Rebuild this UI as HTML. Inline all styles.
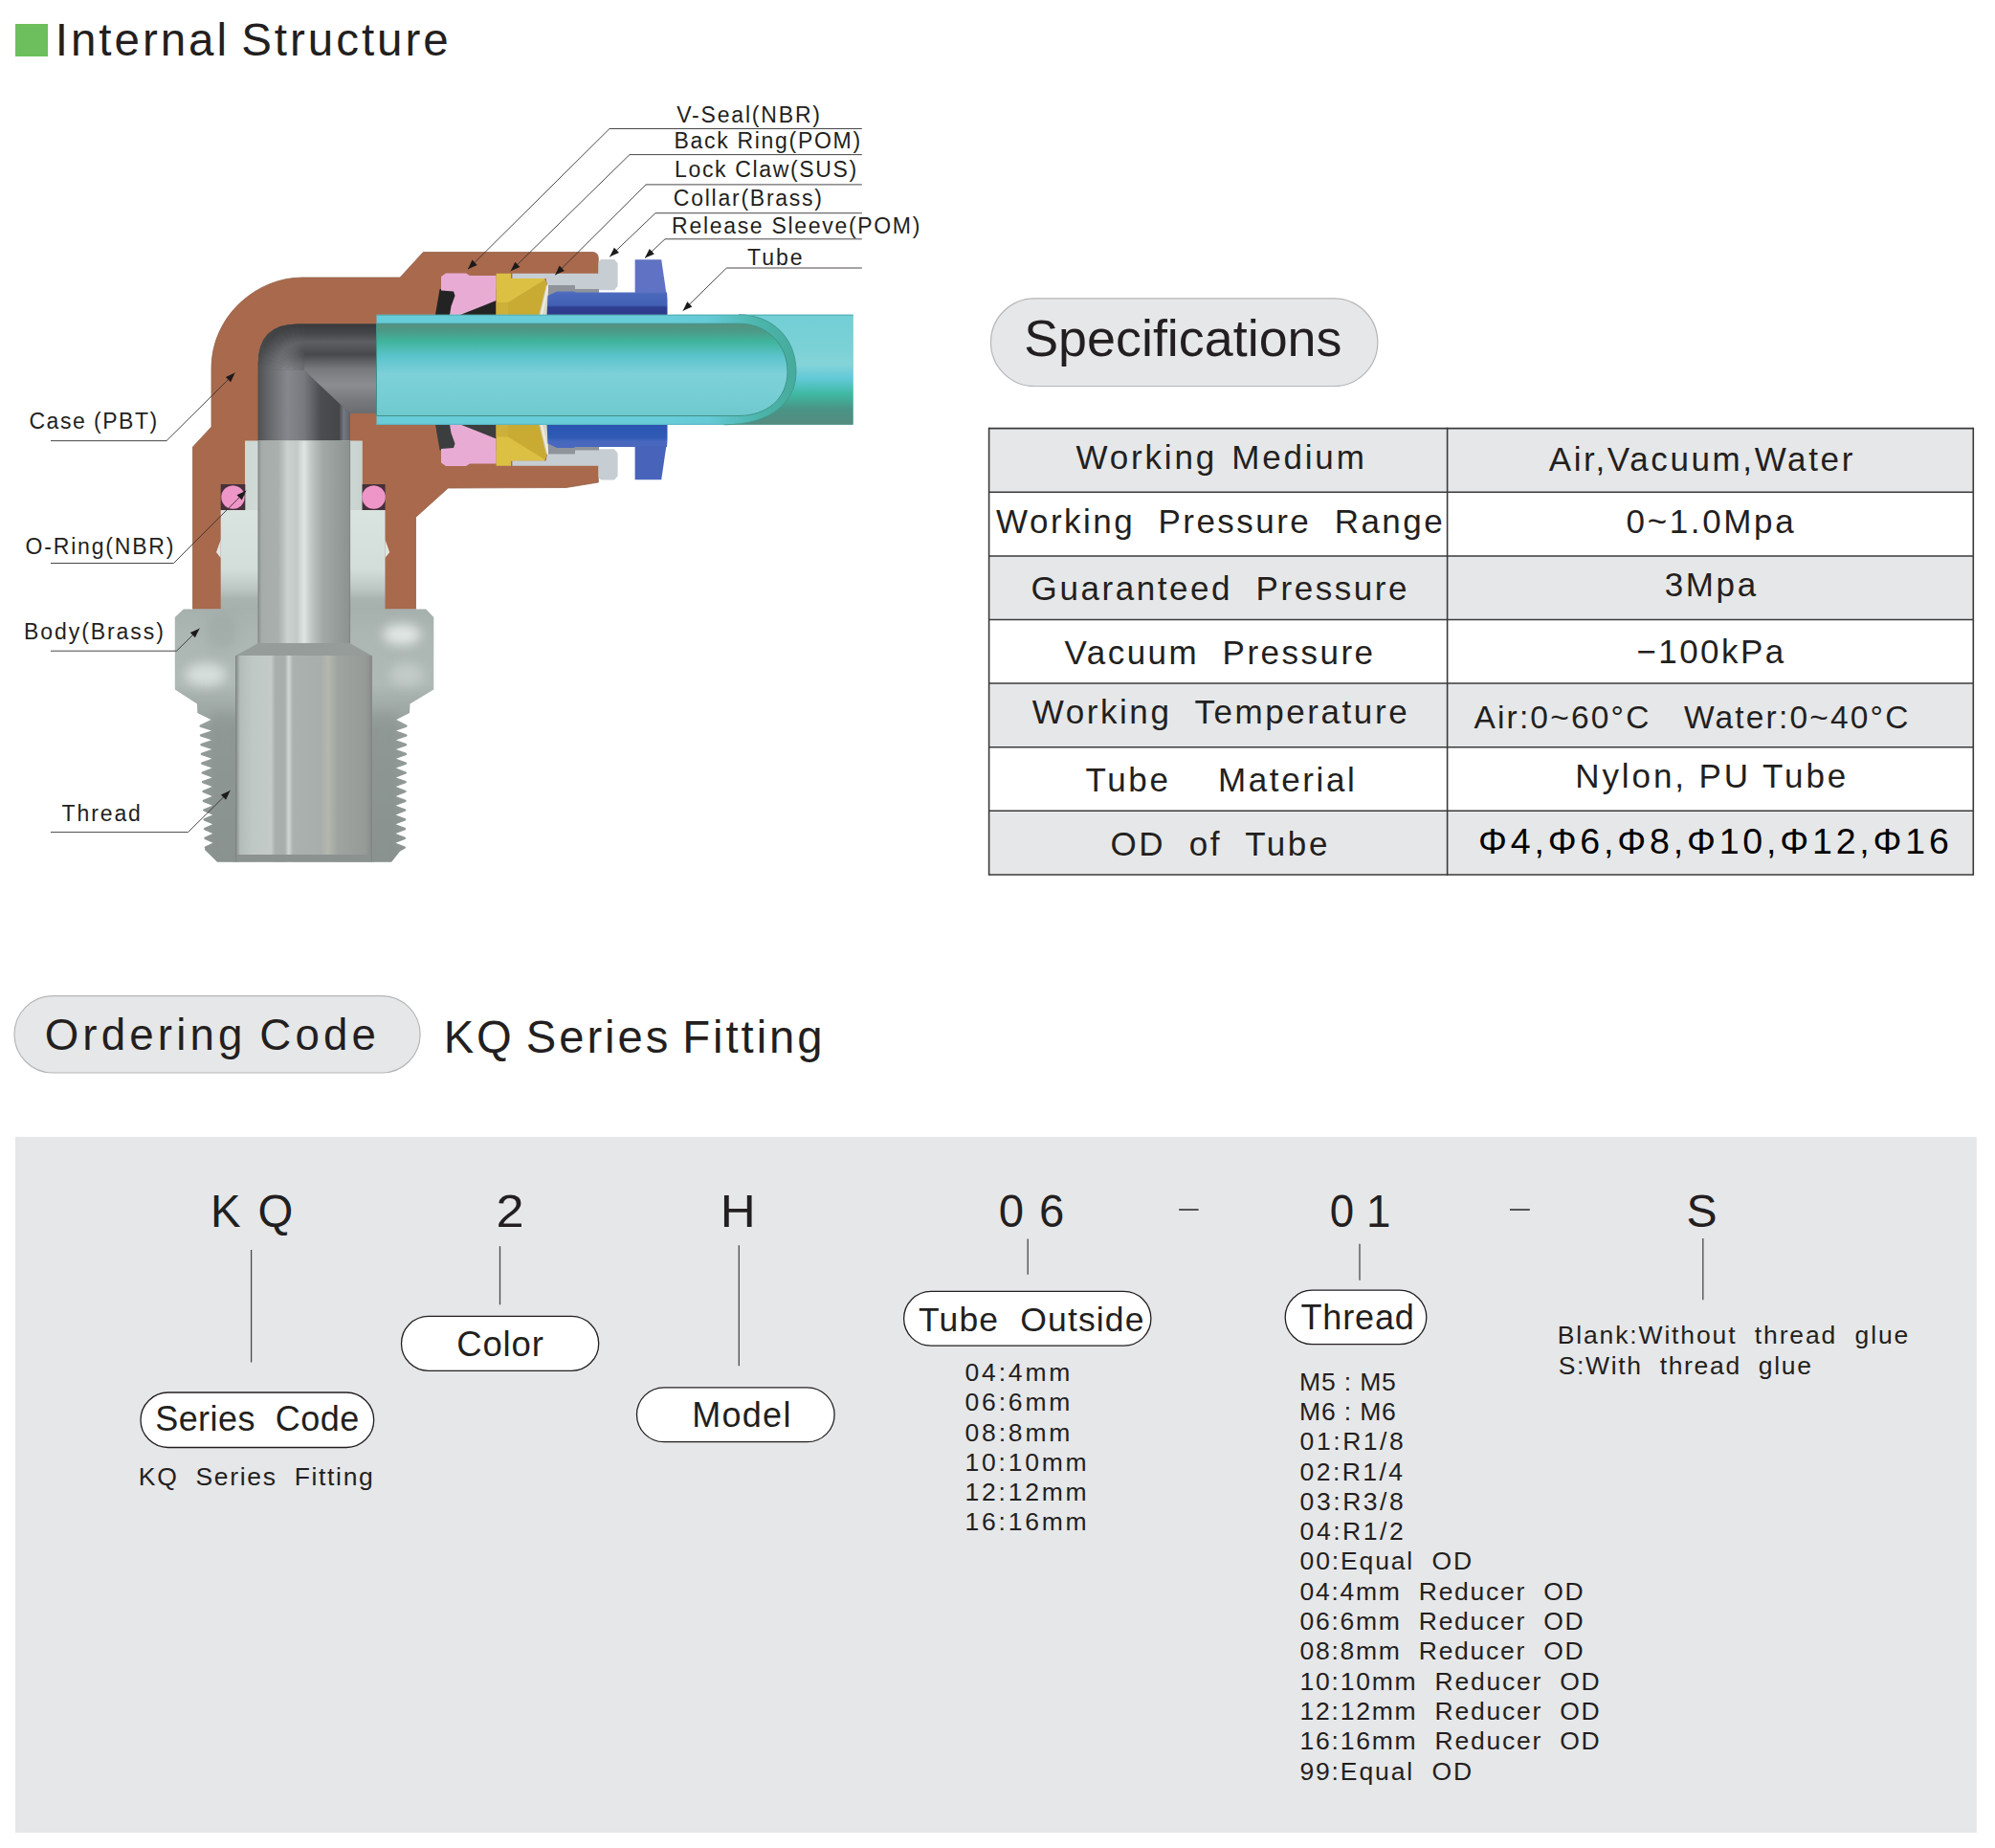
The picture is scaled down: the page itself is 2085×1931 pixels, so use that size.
<!DOCTYPE html>
<html lang="en"><head><meta charset="utf-8"><title>KQ Series Fitting - Internal Structure</title>
<style>
html,body{margin:0;padding:0;background:#fff;}
body{width:2085px;height:1931px;overflow:hidden;}
svg{display:block;font-family:"Liberation Sans", sans-serif;}
svg text{white-space:pre;}
</style></head><body>
<svg width="2085" height="1931" viewBox="0 0 2085 1931">
<rect x="16" y="25" width="34" height="34" fill="#6cbf5c"/>
<text x="57.8" y="58.0" font-size="47.5" textLength="410.9" lengthAdjust="spacing" fill="#231f20" xml:space="preserve" word-spacing="-4">Internal Structure</text>
<rect x="1035.5" y="311.8" width="404.3" height="91.7" rx="45.8" ry="45.8" fill="#e6e7e8" stroke="#b5b6b8" stroke-width="1.2"/>
<text x="1070.2" y="371.8" font-size="54.5" textLength="332.3" lengthAdjust="spacingAndGlyphs" fill="#231f20" xml:space="preserve" >Specifications</text>
<rect x="1033.6" y="447.6" width="1028.7" height="66.7" fill="#e6e7e8"/>
<rect x="1033.6" y="581.0" width="1028.7" height="66.5" fill="#e6e7e8"/>
<rect x="1033.6" y="714.0" width="1028.7" height="66.7" fill="#e6e7e8"/>
<rect x="1033.6" y="847.2" width="1028.7" height="66.8" fill="#e6e7e8"/>
<line x1="1033.6" y1="447.6" x2="2062.3" y2="447.6" stroke="#3a3a3a" stroke-width="1.6"/>
<line x1="1033.6" y1="514.3" x2="2062.3" y2="514.3" stroke="#3a3a3a" stroke-width="1.6"/>
<line x1="1033.6" y1="581.0" x2="2062.3" y2="581.0" stroke="#3a3a3a" stroke-width="1.6"/>
<line x1="1033.6" y1="647.5" x2="2062.3" y2="647.5" stroke="#3a3a3a" stroke-width="1.6"/>
<line x1="1033.6" y1="714.0" x2="2062.3" y2="714.0" stroke="#3a3a3a" stroke-width="1.6"/>
<line x1="1033.6" y1="780.7" x2="2062.3" y2="780.7" stroke="#3a3a3a" stroke-width="1.6"/>
<line x1="1033.6" y1="847.2" x2="2062.3" y2="847.2" stroke="#3a3a3a" stroke-width="1.6"/>
<line x1="1033.6" y1="914.0" x2="2062.3" y2="914.0" stroke="#3a3a3a" stroke-width="1.6"/>
<line x1="1033.6" y1="446.8" x2="1033.6" y2="914.8" stroke="#3a3a3a" stroke-width="1.6"/>
<line x1="1512.6" y1="446.8" x2="1512.6" y2="914.8" stroke="#3a3a3a" stroke-width="1.6"/>
<line x1="2062.3" y1="446.8" x2="2062.3" y2="914.8" stroke="#3a3a3a" stroke-width="1.6"/>
<text x="1124.5" y="490.1" font-size="35" textLength="301.3" lengthAdjust="spacing" fill="#231f20" xml:space="preserve" word-spacing="-5">Working  Medium</text>
<text x="1041.1" y="556.5" font-size="35" textLength="466.6" lengthAdjust="spacing" fill="#231f20" xml:space="preserve" >Working  Pressure  Range</text>
<text x="1077.6" y="626.7" font-size="35" textLength="392.9" lengthAdjust="spacing" fill="#231f20" xml:space="preserve" >Guaranteed  Pressure</text>
<text x="1112.5" y="693.8" font-size="35" textLength="322.5" lengthAdjust="spacing" fill="#231f20" xml:space="preserve" >Vacuum  Pressure</text>
<text x="1078.7" y="756.4" font-size="35" textLength="391.9" lengthAdjust="spacing" fill="#231f20" xml:space="preserve" >Working  Temperature</text>
<text x="1134.5" y="826.6" font-size="35" textLength="281.3" lengthAdjust="spacing" fill="#231f20" xml:space="preserve" >Tube    Material</text>
<text x="1160.4" y="893.5" font-size="35" textLength="227.0" lengthAdjust="spacing" fill="#231f20" xml:space="preserve" >OD  of  Tube</text>
<text x="1618.7" y="492.4" font-size="35" textLength="317.6" lengthAdjust="spacing" fill="#231f20" xml:space="preserve" >Air,Vacuum,Water</text>
<text x="1699.6" y="557.2" font-size="35" textLength="175.0" lengthAdjust="spacing" fill="#231f20" xml:space="preserve" >0~1.0Mpa</text>
<text x="1739.7" y="623.3" font-size="35" textLength="95.5" lengthAdjust="spacing" fill="#231f20" xml:space="preserve" >3Mpa</text>
<text x="1710.3" y="692.9" font-size="35" textLength="153.9" lengthAdjust="spacing" fill="#231f20" xml:space="preserve" >−100kPa</text>
<text x="1540.4" y="760.5" font-size="33.5" textLength="454.0" lengthAdjust="spacing" fill="#231f20" xml:space="preserve" >Air:0~60°C   Water:0~40°C</text>
<text x="1646.2" y="822.5" font-size="35" textLength="283.1" lengthAdjust="spacing" fill="#231f20" xml:space="preserve" >Nylon, PU Tube</text>
<text x="1545.0" y="892.3" font-size="37.5" textLength="491.8" lengthAdjust="spacing" fill="#000" xml:space="preserve" >Φ4,Φ6,Φ8,Φ10,Φ12,Φ16</text>
<rect x="15.0" y="1040.6" width="424.1" height="80.4" rx="40.2" ry="40.2" fill="#e6e7e8" stroke="#b5b6b8" stroke-width="1.2"/>
<text x="46.7" y="1096.8" font-size="45.7" textLength="346.3" lengthAdjust="spacing" fill="#231f20" xml:space="preserve" word-spacing="-3">Ordering Code</text>
<text x="463.7" y="1099.7" font-size="47.2" textLength="395.8" lengthAdjust="spacing" fill="#231f20" xml:space="preserve" word-spacing="-4">KQ Series Fitting</text>
<rect x="15.9" y="1187.9" width="2049.9" height="727.1" fill="#e6e7e9"/>
<text x="220.1" y="1282.0" font-size="47.3" textLength="86.3" lengthAdjust="spacing" fill="#231f20" xml:space="preserve" >K Q</text>
<text x="518.4" y="1282.0" font-size="47.3" textLength="29.1" lengthAdjust="spacingAndGlyphs" fill="#231f20" xml:space="preserve" >2</text>
<text x="752.7" y="1282.4" font-size="47.3" textLength="37.0" lengthAdjust="spacingAndGlyphs" fill="#231f20" xml:space="preserve" >H</text>
<text x="1043.8" y="1282.4" font-size="47.3" textLength="68.6" lengthAdjust="spacing" fill="#231f20" xml:space="preserve" >0 6</text>
<text x="1389.8" y="1282.4" font-size="47.3" textLength="63.5" lengthAdjust="spacingAndGlyphs" fill="#231f20" xml:space="preserve" >0 1</text>
<text x="1762.6" y="1282.4" font-size="47.3" textLength="32.1" lengthAdjust="spacingAndGlyphs" fill="#231f20" xml:space="preserve" >S</text>
<line x1="1232.2" y1="1264.0" x2="1252.6" y2="1264.0" stroke="#231f20" stroke-width="1.5"/>
<line x1="1578.0" y1="1264.0" x2="1598.8" y2="1264.0" stroke="#231f20" stroke-width="1.5"/>
<line x1="262.6" y1="1306.0" x2="262.6" y2="1423.5" stroke="#4a4a4a" stroke-width="1.3"/>
<line x1="522.5" y1="1302.2" x2="522.5" y2="1363.3" stroke="#4a4a4a" stroke-width="1.3"/>
<line x1="772.3" y1="1301.3" x2="772.3" y2="1427.3" stroke="#4a4a4a" stroke-width="1.3"/>
<line x1="1074.2" y1="1294.4" x2="1074.2" y2="1331.7" stroke="#4a4a4a" stroke-width="1.3"/>
<line x1="1421.0" y1="1299.8" x2="1421.0" y2="1337.7" stroke="#4a4a4a" stroke-width="1.3"/>
<line x1="1779.8" y1="1294.0" x2="1779.8" y2="1358.3" stroke="#4a4a4a" stroke-width="1.3"/>
<rect x="419.5" y="1375.4" width="206.2" height="56.9" rx="28.4" ry="28.4" fill="#fff" stroke="#231f20" stroke-width="1.3"/>
<text x="477.2" y="1416.7" font-size="36.5" textLength="90.7" lengthAdjust="spacing" fill="#231f20" xml:space="preserve" >Color</text>
<rect x="147.0" y="1455.0" width="243.7" height="57.5" rx="28.8" ry="28.8" fill="#fff" stroke="#231f20" stroke-width="1.3"/>
<text x="162.2" y="1494.9" font-size="36" textLength="213.0" lengthAdjust="spacing" fill="#231f20" xml:space="preserve" >Series  Code</text>
<rect x="665.5" y="1449.8" width="206.6" height="56.9" rx="28.5" ry="28.5" fill="#fff" stroke="#231f20" stroke-width="1.3"/>
<text x="723.2" y="1491.0" font-size="36" textLength="103.2" lengthAdjust="spacing" fill="#231f20" xml:space="preserve" >Model</text>
<rect x="944.6" y="1349.4" width="258.3" height="56.8" rx="28.4" ry="28.4" fill="#fff" stroke="#231f20" stroke-width="1.3"/>
<text x="960.0" y="1390.9" font-size="35.5" textLength="235.5" lengthAdjust="spacing" fill="#231f20" xml:space="preserve" >Tube  Outside</text>
<rect x="1343.2" y="1348.2" width="147.6" height="56.5" rx="28.2" ry="28.2" fill="#fff" stroke="#231f20" stroke-width="1.3"/>
<text x="1359.5" y="1388.5" font-size="36" textLength="118.3" lengthAdjust="spacing" fill="#231f20" xml:space="preserve" >Thread</text>
<text x="144.8" y="1552.0" font-size="26.5" textLength="245.0" lengthAdjust="spacing" fill="#231f20" xml:space="preserve" >KQ  Series  Fitting</text>
<text x="1008.5" y="1442.9" font-size="26.5" textLength="109.9" lengthAdjust="spacing" fill="#231f20" xml:space="preserve" >04:4mm</text>
<text x="1008.5" y="1474.2" font-size="26.5" textLength="109.9" lengthAdjust="spacing" fill="#231f20" xml:space="preserve" >06:6mm</text>
<text x="1008.5" y="1505.5" font-size="26.5" textLength="109.9" lengthAdjust="spacing" fill="#231f20" xml:space="preserve" >08:8mm</text>
<text x="1008.5" y="1536.7" font-size="26.5" textLength="127.1" lengthAdjust="spacing" fill="#231f20" xml:space="preserve" >10:10mm</text>
<text x="1008.5" y="1568.0" font-size="26.5" textLength="127.1" lengthAdjust="spacing" fill="#231f20" xml:space="preserve" >12:12mm</text>
<text x="1008.5" y="1599.3" font-size="26.5" textLength="127.1" lengthAdjust="spacing" fill="#231f20" xml:space="preserve" >16:16mm</text>
<text x="1358.1" y="1452.6" font-size="26.5" textLength="100.7" lengthAdjust="spacing" fill="#231f20" xml:space="preserve" >M5 : M5</text>
<text x="1358.1" y="1483.9" font-size="26.5" textLength="100.7" lengthAdjust="spacing" fill="#231f20" xml:space="preserve" >M6 : M6</text>
<text x="1358.6" y="1515.2" font-size="26.5" textLength="108.2" lengthAdjust="spacing" fill="#231f20" xml:space="preserve" >01:R1/8</text>
<text x="1358.6" y="1546.5" font-size="26.5" textLength="107.5" lengthAdjust="spacing" fill="#231f20" xml:space="preserve" >02:R1/4</text>
<text x="1358.6" y="1577.8" font-size="26.5" textLength="108.2" lengthAdjust="spacing" fill="#231f20" xml:space="preserve" >03:R3/8</text>
<text x="1358.6" y="1609.1" font-size="26.5" textLength="108.1" lengthAdjust="spacing" fill="#231f20" xml:space="preserve" >04:R1/2</text>
<text x="1358.6" y="1640.4" font-size="26.5" textLength="179.5" lengthAdjust="spacing" fill="#231f20" xml:space="preserve" >00:Equal  OD</text>
<text x="1358.6" y="1671.7" font-size="26.5" textLength="296.0" lengthAdjust="spacing" fill="#231f20" xml:space="preserve" >04:4mm  Reducer  OD</text>
<text x="1358.6" y="1703.0" font-size="26.5" textLength="296.0" lengthAdjust="spacing" fill="#231f20" xml:space="preserve" >06:6mm  Reducer  OD</text>
<text x="1358.6" y="1734.3" font-size="26.5" textLength="296.0" lengthAdjust="spacing" fill="#231f20" xml:space="preserve" >08:8mm  Reducer  OD</text>
<text x="1358.6" y="1765.6" font-size="26.5" textLength="313.1" lengthAdjust="spacing" fill="#231f20" xml:space="preserve" >10:10mm  Reducer  OD</text>
<text x="1358.6" y="1796.9" font-size="26.5" textLength="313.1" lengthAdjust="spacing" fill="#231f20" xml:space="preserve" >12:12mm  Reducer  OD</text>
<text x="1358.6" y="1828.2" font-size="26.5" textLength="313.1" lengthAdjust="spacing" fill="#231f20" xml:space="preserve" >16:16mm  Reducer  OD</text>
<text x="1358.4" y="1859.5" font-size="26.5" textLength="179.7" lengthAdjust="spacing" fill="#231f20" xml:space="preserve" >99:Equal  OD</text>
<text x="1627.7" y="1404.0" font-size="26.5" textLength="366.6" lengthAdjust="spacing" fill="#231f20" xml:space="preserve" >Blank:Without  thread  glue</text>
<text x="1628.7" y="1435.6" font-size="26.5" textLength="264.2" lengthAdjust="spacing" fill="#231f20" xml:space="preserve" >S:With  thread  glue</text>
<defs>
<linearGradient id="gBoreU" x1="0" y1="0" x2="1" y2="0" gradientUnits="objectBoundingBox"><stop offset="0" stop-color="#8f9592"/><stop offset="0.04" stop-color="#a6acaa"/><stop offset="0.22" stop-color="#aab0ad"/><stop offset="0.32" stop-color="#cbd1ce"/><stop offset="0.42" stop-color="#c3c9c6"/><stop offset="0.5" stop-color="#dfe5e3"/><stop offset="0.58" stop-color="#c0c6c3"/><stop offset="0.7" stop-color="#a3a9a6"/><stop offset="1" stop-color="#8c928f"/></linearGradient>
<linearGradient id="gBoreL" x1="0" y1="0" x2="1" y2="0" gradientUnits="objectBoundingBox"><stop offset="0" stop-color="#878d8b"/><stop offset="0.03" stop-color="#b4bcb9"/><stop offset="0.12" stop-color="#c0c8c5"/><stop offset="0.26" stop-color="#c3cac8"/><stop offset="0.29" stop-color="#a9afac"/><stop offset="0.36" stop-color="#a8aeab"/><stop offset="0.39" stop-color="#d0d6d4"/><stop offset="0.42" stop-color="#abb1ae"/><stop offset="0.62" stop-color="#a8aeab"/><stop offset="0.68" stop-color="#b3b7ad"/><stop offset="0.75" stop-color="#9fa4a1"/><stop offset="0.95" stop-color="#969b98"/><stop offset="1" stop-color="#898e8c"/></linearGradient>
<linearGradient id="gHex" x1="0" y1="0" x2="1" y2="0" gradientUnits="objectBoundingBox"><stop offset="0" stop-color="#a3adaa"/><stop offset="0.2" stop-color="#b4bebb"/><stop offset="0.5" stop-color="#c3cdca"/><stop offset="0.8" stop-color="#b3bdba"/><stop offset="1" stop-color="#a1aaa7"/></linearGradient>
<linearGradient id="gThr" x1="0" y1="0" x2="1" y2="0" gradientUnits="objectBoundingBox"><stop offset="0" stop-color="#8d9694"/><stop offset="0.5" stop-color="#9aa3a0"/><stop offset="1" stop-color="#8a9290"/></linearGradient>
<linearGradient id="gBodyU" x1="0" y1="0" x2="1" y2="0" gradientUnits="objectBoundingBox"><stop offset="0" stop-color="#cdd7d4"/><stop offset="0.5" stop-color="#dde6e3"/><stop offset="1" stop-color="#c8d2cf"/></linearGradient>
<linearGradient id="gChV" x1="269.7" y1="0" x2="365.8" y2="0" gradientUnits="userSpaceOnUse"><stop offset="0" stop-color="#4e5052"/><stop offset="0.12" stop-color="#66686b"/><stop offset="0.32" stop-color="#85878c"/><stop offset="0.5" stop-color="#77797e"/><stop offset="0.68" stop-color="#4c4d50"/><stop offset="0.88" stop-color="#454648"/><stop offset="0.93" stop-color="#747983"/><stop offset="1" stop-color="#5d616a"/></linearGradient>
<linearGradient id="gChH" x1="0" y1="338.6" x2="0" y2="432" gradientUnits="userSpaceOnUse"><stop offset="0" stop-color="#38393b"/><stop offset="0.1" stop-color="#44464a"/><stop offset="0.2" stop-color="#5d5f62"/><stop offset="0.34" stop-color="#47494b"/><stop offset="0.5" stop-color="#77797d"/><stop offset="0.68" stop-color="#8b8d91"/><stop offset="0.85" stop-color="#77797d"/><stop offset="1" stop-color="#6a6c70"/></linearGradient>
<linearGradient id="gTubeIn" x1="0" y1="0" x2="0" y2="1" gradientUnits="objectBoundingBox"><stop offset="0" stop-color="#56917f"/><stop offset="0.07" stop-color="#4d9886"/><stop offset="0.19" stop-color="#3fb49c"/><stop offset="0.36" stop-color="#5cc4cd"/><stop offset="0.55" stop-color="#7dd0d8"/><stop offset="0.85" stop-color="#74cdd3"/><stop offset="1" stop-color="#6ec8cc"/></linearGradient>
<linearGradient id="gTubeOut" x1="0" y1="0" x2="0" y2="1" gradientUnits="objectBoundingBox"><stop offset="0" stop-color="#72cfd5"/><stop offset="0.3" stop-color="#7ad1d6"/><stop offset="0.45" stop-color="#84d4d8"/><stop offset="0.58" stop-color="#62c9d8"/><stop offset="0.72" stop-color="#3fb9a2"/><stop offset="0.86" stop-color="#4a9485"/><stop offset="1" stop-color="#538c7f"/></linearGradient>
<linearGradient id="gBlue" x1="0" y1="0" x2="0" y2="1" gradientUnits="objectBoundingBox"><stop offset="0" stop-color="#4d6cc0"/><stop offset="0.45" stop-color="#3f5cb2"/><stop offset="0.6" stop-color="#2f4192"/><stop offset="1" stop-color="#2b3a88"/></linearGradient>
<linearGradient id="gBlueB" x1="0" y1="0" x2="0" y2="1" gradientUnits="objectBoundingBox"><stop offset="0" stop-color="#2a55b0"/><stop offset="0.5" stop-color="#3560b8"/><stop offset="1" stop-color="#4a66bc"/></linearGradient>
<linearGradient id="gRim" x1="700" y1="0" x2="832" y2="0" gradientUnits="userSpaceOnUse"><stop offset="0" stop-color="#69ccd9"/><stop offset="0.3" stop-color="#66cad6"/><stop offset="0.7" stop-color="#4cb5ab"/><stop offset="1" stop-color="#46ab9c"/></linearGradient>
<linearGradient id="gBlueT" x1="0" y1="304" x2="0" y2="329" gradientUnits="userSpaceOnUse"><stop offset="0" stop-color="#5572c4"/><stop offset="0.15" stop-color="#4a68bb"/><stop offset="0.6" stop-color="#4261b4"/><stop offset="0.68" stop-color="#2f3f90"/><stop offset="1" stop-color="#2c3a88"/></linearGradient>
<linearGradient id="gBlueBt" x1="0" y1="443.8" x2="0" y2="468.5" gradientUnits="userSpaceOnUse"><stop offset="0" stop-color="#2a55b0"/><stop offset="0.55" stop-color="#2f5bb6"/><stop offset="0.7" stop-color="#4767bd"/><stop offset="1" stop-color="#4a68bd"/></linearGradient>
<linearGradient id="gHexV" x1="0" y1="636" x2="0" y2="900" gradientUnits="userSpaceOnUse"><stop offset="0" stop-color="#a6b0ad"/><stop offset="0.1" stop-color="#acb6b3"/><stop offset="0.3" stop-color="#afb9b6"/><stop offset="0.36" stop-color="#a4aeab"/><stop offset="0.48" stop-color="#939c99"/><stop offset="1" stop-color="#8c9492"/></linearGradient>
<linearGradient id="gBodyW" x1="0" y1="533" x2="0" y2="636" gradientUnits="userSpaceOnUse"><stop offset="0" stop-color="#d9e3e0"/><stop offset="0.6" stop-color="#d3dedb"/><stop offset="0.8" stop-color="#bcc6c3"/><stop offset="0.9" stop-color="#a9b3b0"/><stop offset="1" stop-color="#a5afac"/></linearGradient>
<filter id="blur6" x="-50%" y="-50%" width="200%" height="200%"><feGaussianBlur stdDeviation="6"/></filter>
<filter id="blur3" x="-50%" y="-50%" width="200%" height="200%"><feGaussianBlur stdDeviation="3"/></filter>
</defs>
<path d="M442.3,263.5 L619,263.5 Q625.3,263.5 625.3,270 L625.3,504 L591.6,509.5 L468.3,510 L434.5,540.4 L434.5,636.3 L201.5,636.3 L201.5,467 L221,446 L221,385 C221,330 268,290 316,290 L418,290 Z" fill="#a9694c" stroke="#96634b" stroke-width="0.8"/>
<clipPath id="cpCh"><path d="M269.7,462 L269.7,380 Q269.7,338.6 311,338.6 L393.5,338.6 L393.5,432 L365.8,432 L365.8,462 Z"/></clipPath>
<g clip-path="url(#cpCh)">
<rect x="260" y="330" width="140" height="140" fill="#505255"/>
<polygon points="265.0,465.0 265.0,386.7 317.7,386.7 366.8,433.0 366.8,465.0" fill="url(#gChV)" />
<polygon points="317.7,335.0 395.0,335.0 395.0,432.0 365.8,432.0 317.7,386.7" fill="url(#gChH)" />
<radialGradient id="gT0" cx="317.7" cy="386.7" r="48.1" gradientUnits="userSpaceOnUse"><stop offset="0.0" stop-color="#77797e"/><stop offset="0.1" stop-color="#7a7c81"/><stop offset="0.2" stop-color="#7d7f84"/><stop offset="0.3" stop-color="#808287"/><stop offset="0.4" stop-color="#808286"/><stop offset="0.5" stop-color="#797b7f"/><stop offset="0.6" stop-color="#717377"/><stop offset="0.7" stop-color="#6a6c6f"/><stop offset="0.8" stop-color="#616366"/><stop offset="0.9" stop-color="#57595b"/><stop offset="1.0" stop-color="#4d4f51"/></radialGradient>
<polygon points="317.7,386.7 237.7,387.0 238.4,375.9" fill="url(#gT0)" />
<radialGradient id="gT1" cx="317.7" cy="386.7" r="48.1" gradientUnits="userSpaceOnUse"><stop offset="0.0" stop-color="#77797e"/><stop offset="0.1" stop-color="#797b80"/><stop offset="0.2" stop-color="#7b7d81"/><stop offset="0.3" stop-color="#7c7e83"/><stop offset="0.4" stop-color="#7b7d82"/><stop offset="0.5" stop-color="#75777b"/><stop offset="0.6" stop-color="#707275"/><stop offset="0.7" stop-color="#686a6d"/><stop offset="0.8" stop-color="#5e6063"/><stop offset="0.9" stop-color="#555759"/><stop offset="1.0" stop-color="#4b4d4f"/></radialGradient>
<polygon points="317.7,386.7 238.3,376.6 240.5,365.7" fill="url(#gT1)" />
<radialGradient id="gT2" cx="317.7" cy="386.7" r="48.1" gradientUnits="userSpaceOnUse"><stop offset="0.0" stop-color="#77797e"/><stop offset="0.1" stop-color="#787a7e"/><stop offset="0.2" stop-color="#787a7e"/><stop offset="0.3" stop-color="#787a7e"/><stop offset="0.4" stop-color="#77797d"/><stop offset="0.5" stop-color="#727478"/><stop offset="0.6" stop-color="#6e7073"/><stop offset="0.7" stop-color="#65676b"/><stop offset="0.8" stop-color="#5c5e61"/><stop offset="0.9" stop-color="#535557"/><stop offset="1.0" stop-color="#494b4d"/></radialGradient>
<polygon points="317.7,386.7 240.3,366.3 243.9,355.8" fill="url(#gT2)" />
<radialGradient id="gT3" cx="317.7" cy="386.7" r="48.1" gradientUnits="userSpaceOnUse"><stop offset="0.0" stop-color="#77797e"/><stop offset="0.1" stop-color="#77797d"/><stop offset="0.2" stop-color="#75777b"/><stop offset="0.3" stop-color="#737579"/><stop offset="0.4" stop-color="#727478"/><stop offset="0.5" stop-color="#6f7175"/><stop offset="0.6" stop-color="#6c6e71"/><stop offset="0.7" stop-color="#636569"/><stop offset="0.8" stop-color="#595b5f"/><stop offset="0.9" stop-color="#505255"/><stop offset="1.0" stop-color="#48494b"/></radialGradient>
<polygon points="317.7,386.7 243.7,356.4 248.6,346.4" fill="url(#gT3)" />
<radialGradient id="gT4" cx="317.7" cy="386.7" r="48.1" gradientUnits="userSpaceOnUse"><stop offset="0.0" stop-color="#787a7e"/><stop offset="0.1" stop-color="#75777c"/><stop offset="0.2" stop-color="#727478"/><stop offset="0.3" stop-color="#6f7175"/><stop offset="0.4" stop-color="#6e7073"/><stop offset="0.5" stop-color="#6c6e71"/><stop offset="0.6" stop-color="#6a6c70"/><stop offset="0.7" stop-color="#616367"/><stop offset="0.8" stop-color="#57595c"/><stop offset="0.9" stop-color="#4e5053"/><stop offset="1.0" stop-color="#464749"/></radialGradient>
<polygon points="317.7,386.7 248.3,347.0 254.4,337.7" fill="url(#gT4)" />
<radialGradient id="gT5" cx="317.7" cy="386.7" r="48.1" gradientUnits="userSpaceOnUse"><stop offset="0.0" stop-color="#787a7e"/><stop offset="0.1" stop-color="#74767a"/><stop offset="0.2" stop-color="#6f7175"/><stop offset="0.3" stop-color="#6a6c70"/><stop offset="0.4" stop-color="#696b6f"/><stop offset="0.5" stop-color="#696b6e"/><stop offset="0.6" stop-color="#686a6e"/><stop offset="0.7" stop-color="#5f6165"/><stop offset="0.8" stop-color="#55575a"/><stop offset="0.9" stop-color="#4c4e51"/><stop offset="1.0" stop-color="#444547"/></radialGradient>
<polygon points="317.7,386.7 254.0,338.3 261.4,329.9" fill="url(#gT5)" />
<radialGradient id="gT6" cx="317.7" cy="386.7" r="48.1" gradientUnits="userSpaceOnUse"><stop offset="0.0" stop-color="#787a7e"/><stop offset="0.1" stop-color="#737579"/><stop offset="0.2" stop-color="#6c6e72"/><stop offset="0.3" stop-color="#66686b"/><stop offset="0.4" stop-color="#65676a"/><stop offset="0.5" stop-color="#65676b"/><stop offset="0.6" stop-color="#66686c"/><stop offset="0.7" stop-color="#5d5f62"/><stop offset="0.8" stop-color="#525458"/><stop offset="0.9" stop-color="#4a4c4f"/><stop offset="1.0" stop-color="#424446"/></radialGradient>
<polygon points="317.7,386.7 260.9,330.4 269.3,323.0" fill="url(#gT6)" />
<radialGradient id="gT7" cx="317.7" cy="386.7" r="48.1" gradientUnits="userSpaceOnUse"><stop offset="0.0" stop-color="#787a7e"/><stop offset="0.1" stop-color="#727478"/><stop offset="0.2" stop-color="#696b6f"/><stop offset="0.3" stop-color="#616367"/><stop offset="0.4" stop-color="#606265"/><stop offset="0.5" stop-color="#626468"/><stop offset="0.6" stop-color="#64666a"/><stop offset="0.7" stop-color="#5b5d60"/><stop offset="0.8" stop-color="#505255"/><stop offset="0.9" stop-color="#484a4c"/><stop offset="1.0" stop-color="#404244"/></radialGradient>
<polygon points="317.7,386.7 268.7,323.4 278.0,317.3" fill="url(#gT7)" />
<radialGradient id="gT8" cx="317.7" cy="386.7" r="48.1" gradientUnits="userSpaceOnUse"><stop offset="0.0" stop-color="#787a7e"/><stop offset="0.1" stop-color="#707276"/><stop offset="0.2" stop-color="#67696c"/><stop offset="0.3" stop-color="#5d5f62"/><stop offset="0.4" stop-color="#5c5e61"/><stop offset="0.5" stop-color="#5f6164"/><stop offset="0.6" stop-color="#636568"/><stop offset="0.7" stop-color="#595b5e"/><stop offset="0.8" stop-color="#4d4f53"/><stop offset="0.9" stop-color="#46474a"/><stop offset="1.0" stop-color="#3e4042"/></radialGradient>
<polygon points="317.7,386.7 277.4,317.6 287.4,312.7" fill="url(#gT8)" />
<radialGradient id="gT9" cx="317.7" cy="386.7" r="48.1" gradientUnits="userSpaceOnUse"><stop offset="0.0" stop-color="#787a7f"/><stop offset="0.1" stop-color="#6f7175"/><stop offset="0.2" stop-color="#646669"/><stop offset="0.3" stop-color="#585a5d"/><stop offset="0.4" stop-color="#57595c"/><stop offset="0.5" stop-color="#5c5e61"/><stop offset="0.6" stop-color="#616366"/><stop offset="0.7" stop-color="#57595c"/><stop offset="0.8" stop-color="#4b4d51"/><stop offset="0.9" stop-color="#444548"/><stop offset="1.0" stop-color="#3d3e40"/></radialGradient>
<polygon points="317.7,386.7 286.8,312.9 297.3,309.3" fill="url(#gT9)" />
<radialGradient id="gT10" cx="317.7" cy="386.7" r="48.1" gradientUnits="userSpaceOnUse"><stop offset="0.0" stop-color="#787a7f"/><stop offset="0.1" stop-color="#6e7074"/><stop offset="0.2" stop-color="#616366"/><stop offset="0.3" stop-color="#545658"/><stop offset="0.4" stop-color="#535557"/><stop offset="0.5" stop-color="#595b5e"/><stop offset="0.6" stop-color="#5f6164"/><stop offset="0.7" stop-color="#55575a"/><stop offset="0.8" stop-color="#484a4e"/><stop offset="0.9" stop-color="#414346"/><stop offset="1.0" stop-color="#3b3c3e"/></radialGradient>
<polygon points="317.7,386.7 296.7,309.5 307.6,307.3" fill="url(#gT10)" />
<radialGradient id="gT11" cx="317.7" cy="386.7" r="48.1" gradientUnits="userSpaceOnUse"><stop offset="0.0" stop-color="#797b7f"/><stop offset="0.1" stop-color="#6d6f72"/><stop offset="0.2" stop-color="#5e6063"/><stop offset="0.3" stop-color="#4f5154"/><stop offset="0.4" stop-color="#4e5052"/><stop offset="0.5" stop-color="#56585a"/><stop offset="0.6" stop-color="#5d5f62"/><stop offset="0.7" stop-color="#535558"/><stop offset="0.8" stop-color="#46484c"/><stop offset="0.9" stop-color="#3f4144"/><stop offset="1.0" stop-color="#393a3c"/></radialGradient>
<polygon points="317.7,386.7 306.9,307.4 318.0,306.7" fill="url(#gT11)" />
</g>
<polygon points="256.0,460.4 378.8,460.4 378.8,534.0 256.0,534.0" fill="url(#gBodyU)" />
<polygon points="230.7,533.0 402.5,533.0 402.5,637.0 230.7,637.0" fill="url(#gBodyW)" />
<polygon points="230.7,564.0 226.0,577.0 230.7,583.0" fill="#dde6e3" />
<polygon points="402.5,564.0 407.2,577.0 402.5,583.0" fill="#dde6e3" />
<clipPath id="cpHex"><polygon points="191.8,636.5 182.8,645.0 182.8,720.5 206.0,735.5 206.3,745.0 220.5,752.0 209.1,757.5 208.3,758.6 209.1,759.7 221.0,763.5 209.5,767.3 208.7,768.4 209.5,769.5 221.1,773.3 209.9,777.0 209.1,778.1 209.9,779.2 221.2,783.0 210.3,786.8 209.5,787.9 210.3,789.0 221.4,792.8 210.7,796.6 209.9,797.7 210.7,798.8 221.5,802.6 211.1,806.4 210.3,807.5 211.1,808.6 221.6,812.4 211.5,816.1 210.7,817.2 211.5,818.3 221.7,822.1 211.9,825.9 211.1,827.0 211.9,828.1 221.8,831.9 212.3,835.7 211.5,836.8 212.3,837.9 222.0,841.7 212.7,845.4 211.9,846.5 212.7,847.6 222.1,851.4 213.1,855.2 212.3,856.3 213.1,857.4 222.2,861.2 213.5,865.0 212.7,866.1 213.5,867.2 222.3,871.0 213.9,874.7 213.1,875.8 213.9,876.9 222.4,880.7 214.3,884.5 213.5,885.6 214.3,886.7 214.0,888.0 227.1,900.7 409.1,900.7 418.1,889.4 423.3,886.7 424.1,885.6 423.3,884.5 413.4,880.7 423.4,876.9 424.2,875.8 423.4,874.7 413.4,871.0 423.6,867.2 424.4,866.1 423.6,865.0 413.5,861.2 423.7,857.4 424.5,856.3 423.7,855.2 413.6,851.4 423.8,847.6 424.6,846.5 423.8,845.4 413.6,841.7 424.0,837.9 424.8,836.8 424.0,835.7 413.6,831.9 424.1,828.1 424.9,827.0 424.1,825.9 413.7,822.1 424.2,818.3 425.0,817.2 424.2,816.1 413.8,812.4 424.4,808.6 425.2,807.5 424.4,806.4 413.8,802.6 424.5,798.8 425.3,797.7 424.5,796.6 413.9,792.8 424.6,789.0 425.4,787.9 424.6,786.8 413.9,783.0 424.7,779.2 425.5,778.1 424.7,777.0 413.9,773.3 424.9,769.5 425.7,768.4 424.9,767.3 414.0,763.5 425.0,759.7 425.8,758.6 425.0,757.5 414.2,752.0 428.0,745.0 428.5,735.5 453.3,720.5 453.3,645.0 445.2,636.5"/></clipPath>
<polygon points="191.8,636.5 182.8,645.0 182.8,720.5 206.0,735.5 206.3,745.0 220.5,752.0 209.1,757.5 208.3,758.6 209.1,759.7 221.0,763.5 209.5,767.3 208.7,768.4 209.5,769.5 221.1,773.3 209.9,777.0 209.1,778.1 209.9,779.2 221.2,783.0 210.3,786.8 209.5,787.9 210.3,789.0 221.4,792.8 210.7,796.6 209.9,797.7 210.7,798.8 221.5,802.6 211.1,806.4 210.3,807.5 211.1,808.6 221.6,812.4 211.5,816.1 210.7,817.2 211.5,818.3 221.7,822.1 211.9,825.9 211.1,827.0 211.9,828.1 221.8,831.9 212.3,835.7 211.5,836.8 212.3,837.9 222.0,841.7 212.7,845.4 211.9,846.5 212.7,847.6 222.1,851.4 213.1,855.2 212.3,856.3 213.1,857.4 222.2,861.2 213.5,865.0 212.7,866.1 213.5,867.2 222.3,871.0 213.9,874.7 213.1,875.8 213.9,876.9 222.4,880.7 214.3,884.5 213.5,885.6 214.3,886.7 214.0,888.0 227.1,900.7 409.1,900.7 418.1,889.4 423.3,886.7 424.1,885.6 423.3,884.5 413.4,880.7 423.4,876.9 424.2,875.8 423.4,874.7 413.4,871.0 423.6,867.2 424.4,866.1 423.6,865.0 413.5,861.2 423.7,857.4 424.5,856.3 423.7,855.2 413.6,851.4 423.8,847.6 424.6,846.5 423.8,845.4 413.6,841.7 424.0,837.9 424.8,836.8 424.0,835.7 413.6,831.9 424.1,828.1 424.9,827.0 424.1,825.9 413.7,822.1 424.2,818.3 425.0,817.2 424.2,816.1 413.8,812.4 424.4,808.6 425.2,807.5 424.4,806.4 413.8,802.6 424.5,798.8 425.3,797.7 424.5,796.6 413.9,792.8 424.6,789.0 425.4,787.9 424.6,786.8 413.9,783.0 424.7,779.2 425.5,778.1 424.7,777.0 413.9,773.3 424.9,769.5 425.7,768.4 424.9,767.3 414.0,763.5 425.0,759.7 425.8,758.6 425.0,757.5 414.2,752.0 428.0,745.0 428.5,735.5 453.3,720.5 453.3,645.0 445.2,636.5" fill="url(#gHexV)" />
<g clip-path="url(#cpHex)">
<ellipse cx="215" cy="705" rx="22" ry="12" fill="#e4ecea" opacity="0.75" filter="url(#blur6)"/>
<ellipse cx="420" cy="663" rx="20" ry="11" fill="#eef3f2" opacity="0.8" filter="url(#blur6)"/>
<ellipse cx="232" cy="660" rx="16" ry="18" fill="#9aa4a1" opacity="0.5" filter="url(#blur6)"/>
<ellipse cx="425" cy="705" rx="18" ry="12" fill="#cfd8d5" opacity="0.6" filter="url(#blur6)"/>
<rect x="222" y="745" width="26" height="160" fill="#868e8c" opacity="0.3" filter="url(#blur3)"/>
<rect x="388" y="745" width="26" height="160" fill="#868e8c" opacity="0.3" filter="url(#blur3)"/>
</g>
<polygon points="270.0,460.4 365.6,460.4 365.6,672.0 270.0,672.0" fill="url(#gBoreU)" />
<polygon points="270.0,672.0 365.6,672.0 388.3,685.0 246.6,685.0" fill="#969c99" />
<polygon points="246.6,685.0 388.3,685.0 388.3,900.5 246.6,900.5" fill="url(#gBoreL)" />
<polygon points="246.6,893.0 388.3,893.0 392.0,900.5 243.0,900.5" fill="#8c9290" />
<line x1="270.0" y1="460.4" x2="270.0" y2="672.0" stroke="#7d8482" stroke-width="1"/>
<line x1="365.6" y1="460.4" x2="365.6" y2="672.0" stroke="#7d8482" stroke-width="1"/>
<line x1="246.6" y1="685.0" x2="246.6" y2="900.0" stroke="#7d8482" stroke-width="1"/>
<line x1="388.3" y1="685.0" x2="388.3" y2="900.0" stroke="#7d8482" stroke-width="1"/>
<rect x="230.7" y="506" width="25.6" height="27" fill="#45303a"/>
<circle cx="243.5" cy="519.5" r="12.2" fill="#ef96c8"/>
<rect x="378.6" y="506" width="24" height="27" fill="#45303a"/>
<circle cx="390.6" cy="519.5" r="12.2" fill="#ef96c8"/>
<polygon points="459.6,302.0 518.6,302.0 518.6,329.0 455.0,329.0" fill="#232323" />
<polygon points="461.0,289.0 466.0,285.5 487.0,285.5 491.0,288.0 518.6,288.0 518.6,314.0 481.0,329.0 470.0,329.0 471.5,320.0 475.5,309.0 474.0,304.5 461.0,303.5" fill="#e8acd4" />
<polygon points="518.6,285.8 534.0,285.8 534.0,290.7 569.0,290.7 571.5,297.7 564.2,329.0 518.6,329.0" fill="#dcc044" />
<polygon points="531.0,316.0 569.0,292.5 571.5,297.7 564.2,329.0 531.0,329.0" fill="#c9aa33" />
<polygon points="518.6,316.0 531.0,316.0 531.0,329.0 518.6,329.0" fill="#cdb03a" />
<polygon points="563.5,329.0 571.0,297.7 573.2,298.0 573.0,309.0 572.0,329.0" fill="#d9d6cb" />
<polyline points="571.8,293.0 573.0,298.0 566.0,329.0" fill="none" stroke="#f4f1e6" stroke-width="1.4"/>
<polygon points="535.4,285.8 625.3,285.8 625.3,274.0 628.0,271.0 642.0,271.0 645.6,275.0 645.6,299.0 642.0,303.3 600.0,303.3 600.0,298.6 573.0,298.6 570.5,291.0 535.4,291.0" fill="#c6ced4" />
<polygon points="573.0,298.0 601.0,298.0 601.0,302.0 626.0,302.0 626.0,306.5 573.0,310.0" fill="#8f949b" />
<polygon points="571.5,329.0 572.5,309.0 582.0,304.5 600.0,304.5 601.0,305.6 697.0,305.6 697.5,313.0 697.5,329.0" fill="url(#gBlueT)" />
<polygon points="663.6,271.2 691.2,271.2 696.3,306.0 663.6,306.0" fill="#5f72c3" />
<polygon points="459.6,470.5 518.6,470.5 518.6,443.5 455.0,443.5" fill="#3b3d3f" />
<polygon points="461.0,483.5 466.0,487.0 487.0,487.0 491.0,484.5 518.6,484.5 518.6,458.5 481.0,443.5 470.0,443.5 471.5,452.5 475.5,463.5 474.0,468.0 461.0,469.0" fill="#e8acd4" />
<polygon points="518.6,486.7 534.0,486.7 534.0,481.8 569.0,481.8 571.5,474.8 564.2,443.5 518.6,443.5" fill="#dcc044" />
<polygon points="531.0,456.5 569.0,480.0 571.5,474.8 564.2,443.5 531.0,443.5" fill="#c9aa33" />
<polygon points="518.6,456.5 531.0,456.5 531.0,443.5 518.6,443.5" fill="#cdb03a" />
<polygon points="563.5,443.5 571.0,474.8 573.2,474.5 573.0,463.5 572.0,443.5" fill="#d9d6cb" />
<polyline points="571.8,479.5 573.0,474.5 566.0,443.5" fill="none" stroke="#f4f1e6" stroke-width="1.4"/>
<polygon points="535.4,486.7 625.3,486.7 625.3,498.5 628.0,501.5 642.0,501.5 645.6,497.5 645.6,473.5 642.0,469.2 600.0,469.2 600.0,473.9 573.0,473.9 570.5,481.5 535.4,481.5" fill="#c6ced4" />
<polygon points="573.0,474.5 601.0,474.5 601.0,470.5 626.0,470.5 626.0,466.0 573.0,462.5" fill="#8f949b" />
<polygon points="571.5,443.5 572.5,463.5 582.0,468.0 600.0,468.0 601.0,466.9 697.0,466.9 697.5,459.5 697.5,443.5" fill="url(#gBlueBt)" />
<polygon points="663.6,501.3 691.2,501.3 696.3,466.5 663.6,466.5" fill="#4763ba" />
<rect x="393.5" y="328.8" width="498.1" height="115.0" fill="#69ccd9"/>
<path d="M772,328.8 L891.6,328.8 L891.6,443.8 L757,443.8 C803,443.8 832,422 832,388.4 C832,352 806,328.8 772,328.8 Z" fill="url(#gTubeOut)" />
<path d="M700,328.8 L772,328.8 C806,328.8 832,352 832,388.4 C832,422 803,443.8 757,443.8 L700,443.8 L700,434.5 L772,434.5 C802,434.5 823,416 823,388.4 C823,360 802,338.2 772,338.2 L700,338.2 Z" fill="url(#gRim)" />
<path d="M772,328.8 C806,328.8 832,352 832,388.4 C832,422 803,443.8 757,443.8" fill="none" stroke="#3f968a" stroke-width="0.9"/>
<path d="M393.5,338.2 L772,338.2 C802,338.2 823,360 823,388.4 C823,416 802,434.5 772,434.5 L393.5,434.5 Z" fill="url(#gTubeIn)" stroke="#3f9288" stroke-width="1"/>
<line x1="393.5" y1="329.3" x2="891.6" y2="329.3" stroke="#56aeb3" stroke-width="1"/>
<line x1="393.5" y1="443.3" x2="757.0" y2="443.3" stroke="#56b8c4" stroke-width="1"/>
<polyline points="900.8,134.5 637.0,134.5 489.0,281.3" fill="none" stroke="#363233" stroke-width="0.9"/>
<polygon points="489.0,281.3 493.5,271.6 498.7,276.9" fill="#1d1a1b" />
<polyline points="900.8,161.6 658.0,161.6 533.7,283.3" fill="none" stroke="#363233" stroke-width="0.9"/>
<polygon points="533.7,283.3 538.3,273.7 543.4,278.9" fill="#1d1a1b" />
<polyline points="900.8,192.9 675.0,192.9 580.2,287.3" fill="none" stroke="#363233" stroke-width="0.9"/>
<polygon points="580.2,287.3 584.7,277.6 589.9,282.9" fill="#1d1a1b" />
<polyline points="900.8,222.7 685.0,222.7 637.2,268.3" fill="none" stroke="#363233" stroke-width="0.9"/>
<polygon points="637.2,268.3 641.9,258.7 647.0,264.1" fill="#1d1a1b" />
<polyline points="900.8,249.8 695.0,249.8 674.0,269.5" fill="none" stroke="#363233" stroke-width="0.9"/>
<polygon points="674.0,269.5 678.8,260.0 683.8,265.4" fill="#1d1a1b" />
<polyline points="900.8,280.0 759.4,280.0 713.7,324.8" fill="none" stroke="#363233" stroke-width="0.9"/>
<polygon points="713.7,324.8 718.3,315.2 723.4,320.4" fill="#1d1a1b" />
<polyline points="53.0,460.6 174.0,460.6 245.6,389.6" fill="none" stroke="#363233" stroke-width="0.9"/>
<polygon points="245.6,389.6 241.1,399.3 235.9,394.0" fill="#1d1a1b" />
<polyline points="53.0,588.5 181.5,588.5 257.2,512.7" fill="none" stroke="#363233" stroke-width="0.9"/>
<polygon points="257.2,512.7 252.8,522.4 247.5,517.2" fill="#1d1a1b" />
<polyline points="53.0,680.2 184.5,680.2 208.5,656.7" fill="none" stroke="#363233" stroke-width="0.9"/>
<polygon points="208.5,656.7 203.9,666.3 198.8,661.1" fill="#1d1a1b" />
<polyline points="53.0,869.6 196.5,869.6 240.6,826.0" fill="none" stroke="#363233" stroke-width="0.9"/>
<polygon points="240.6,826.0 236.1,835.7 230.9,830.4" fill="#1d1a1b" />
<text x="707.2" y="128.1" font-size="23" textLength="149.8" lengthAdjust="spacing" fill="#231f20" xml:space="preserve" >V-Seal(NBR)</text>
<text x="704.4" y="155.2" font-size="23" textLength="194.7" lengthAdjust="spacing" fill="#231f20" xml:space="preserve" >Back Ring(POM)</text>
<text x="705.1" y="185.2" font-size="23" textLength="190.0" lengthAdjust="spacing" fill="#231f20" xml:space="preserve" >Lock Claw(SUS)</text>
<text x="703.8" y="215.3" font-size="23" textLength="155.2" lengthAdjust="spacing" fill="#231f20" xml:space="preserve" >Collar(Brass)</text>
<text x="702.1" y="244.4" font-size="23" textLength="259.3" lengthAdjust="spacing" fill="#231f20" xml:space="preserve" >Release Sleeve(POM)</text>
<text x="781.0" y="276.5" font-size="23" textLength="57.6" lengthAdjust="spacing" fill="#231f20" xml:space="preserve" >Tube</text>
<text x="30.5" y="448.2" font-size="23" textLength="133.7" lengthAdjust="spacing" fill="#231f20" xml:space="preserve" >Case (PBT)</text>
<text x="26.6" y="578.5" font-size="23" textLength="154.8" lengthAdjust="spacing" fill="#231f20" xml:space="preserve" >O-Ring(NBR)</text>
<text x="25.1" y="668.1" font-size="23" textLength="145.7" lengthAdjust="spacing" fill="#231f20" xml:space="preserve" >Body(Brass)</text>
<text x="64.5" y="858.2" font-size="23" textLength="82.4" lengthAdjust="spacing" fill="#231f20" xml:space="preserve" >Thread</text>
</svg>
</body></html>
